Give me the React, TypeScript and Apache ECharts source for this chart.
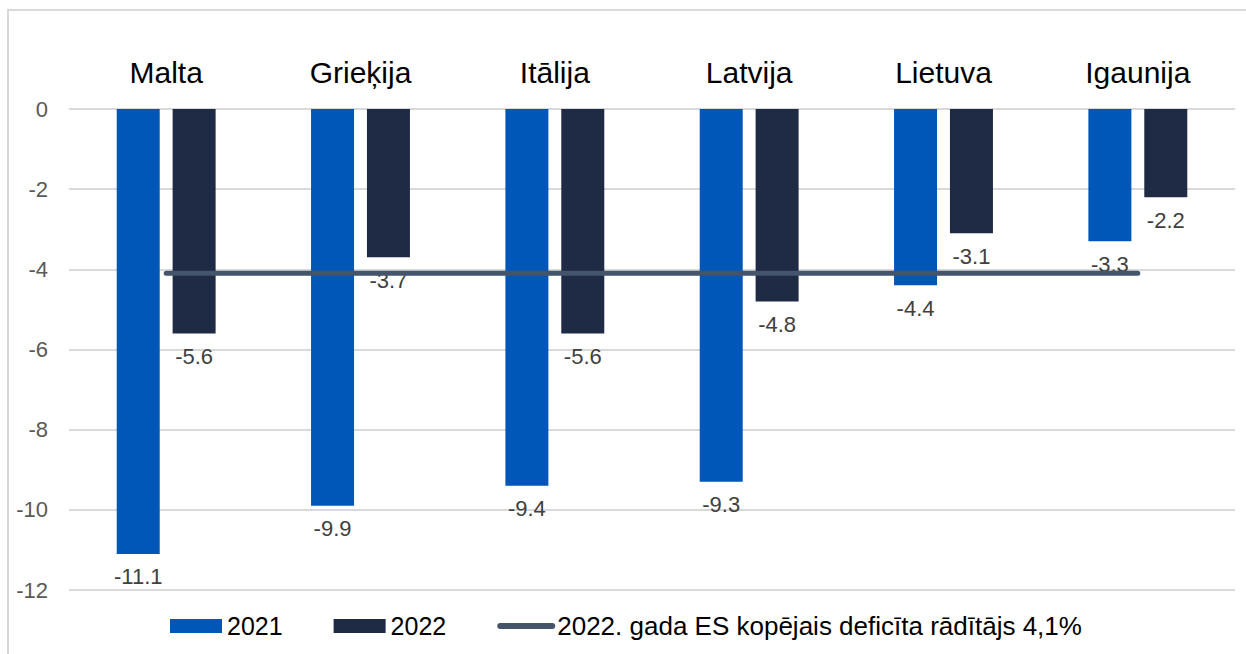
import React, { useEffect, useRef } from "react";
import * as echarts from "echarts";

const categories = ["Malta", "Grieķija", "Itālija", "Latvija", "Lietuva", "Igaunija"];
const values2021 = [-11.1, -9.9, -9.4, -9.3, -4.4, -3.3];
const values2022 = [-5.6, -3.7, -5.6, -4.8, -3.1, -2.2];
const euDeficit = [-4.1, -4.1, -4.1, -4.1, -4.1, -4.1];
const seriesNames = ["2021", "2022", "2022. gada ES kopējais deficīta rādītājs 4,1%"];

const FONT = "'Liberation Sans', Arial, sans-serif";

export default function App() {
  const ref = useRef<HTMLDivElement>(null);
  useEffect(() => {
    if (!ref.current) return;
    const chart = echarts.init(ref.current, undefined, { renderer: "svg" });
    const barLabel = {
      show: true,
      position: "bottom",
      distance: 12,
      color: "#404040",
      fontSize: 22,
      fontFamily: FONT,
    };
    chart.setOption({
      animation: false,
      backgroundColor: "#ffffff",
      textStyle: { fontFamily: FONT },
      graphic: [
        {
          type: "rect",
          shape: { x: 8, y: 10, width: 1260, height: 700 },
          style: { fill: "none", stroke: "#D9D9D9", lineWidth: 2 },
          silent: true,
          z: -10,
        },
      ],
      grid: { left: 69, right: 11, top: 109, bottom: 64, containLabel: false },
      legend: {
        left: 165,
        top: 608,
        itemWidth: 52,
        itemHeight: 14,
        itemGap: 51,
        textStyle: { fontSize: 25, color: "#000000", fontFamily: FONT },
        data: [
          { name: seriesNames[0], icon: "rect" },
          { name: seriesNames[1], icon: "rect" },
          {
            name: seriesNames[2],
            itemStyle: { opacity: 0 },
            lineStyle: { width: 6, cap: "round", color: "#44546A" },
            textStyle: { fontSize: 26, color: "#000000", fontFamily: FONT },
          },
        ],
      },
      xAxis: {
        type: "category",
        position: "top",
        data: categories,
        axisLine: { show: false },
        axisTick: { show: false },
        axisLabel: { fontSize: 30, color: "#000000", margin: 22, fontFamily: FONT },
      },
      yAxis: {
        type: "value",
        min: -12,
        max: 0,
        interval: 2,
        axisLine: { show: false },
        axisTick: { show: false },
        splitLine: { lineStyle: { color: "#D9D9D9", width: 2 } },
        axisLabel: { fontSize: 22, color: "#595959", margin: 21, fontFamily: FONT },
      },
      series: [
        {
          name: seriesNames[0],
          type: "bar",
          data: values2021,
          barWidth: 43,
          barGap: "30%",
          itemStyle: { color: "#0057B8" },
          label: barLabel,
        },
        {
          name: seriesNames[1],
          type: "bar",
          data: values2022,
          barWidth: 43,
          barGap: "30%",
          itemStyle: { color: "#1F2A44" },
          label: barLabel,
        },
        {
          name: seriesNames[2],
          type: "line",
          data: euDeficit,
          symbol: "none",
          z: 5,
          lineStyle: { color: "#44546A", width: 5, cap: "round" },
          itemStyle: { color: "#44546A" },
        },
      ],
    });
    return () => chart.dispose();
  }, []);
  return (
    <div
      ref={ref}
      style={{ position: "fixed", left: 0, top: 0, width: 1246, height: 654 }}
    />
  );
}
